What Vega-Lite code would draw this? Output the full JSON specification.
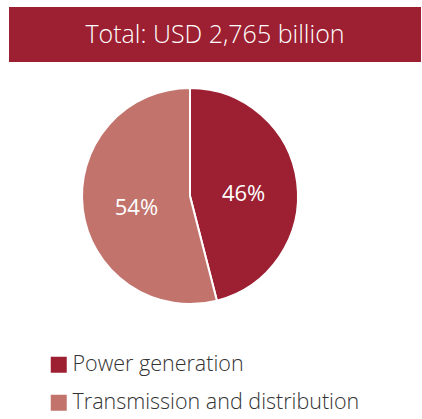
{
  "$schema": "https://vega.github.io/schema/vega-lite/v6.json",
  "padding": {"left": 9, "top": 7, "right": 0, "bottom": 0},
  "background": "white",
  "spacing": 0,
  "config": {"view": {"stroke": null}, "font": "Open Sans"},
  "vconcat": [
    {
      "width": 412,
      "height": 55,
      "view": {"fill": "#9C1F32", "stroke": null},
      "data": {"values": [{"label": "Total: USD 2,765 billion"}]},
      "mark": {"type": "text", "color": "white", "fontSize": 25, "fontWeight": 300, "font": "Open Sans", "baseline": "middle", "align": "center"},
      "encoding": {"text": {"field": "label"}}
    },
    {
      "width": 362,
      "height": 268,
      "data": {"values": [
        {"segment": "Power generation", "share": 46, "label": "46%", "ord": 1},
        {"segment": "Transmission and distribution", "share": 54, "label": "54%", "ord": 2}
      ]},
      "encoding": {
        "theta": {"field": "share", "type": "quantitative", "stack": true},
        "order": {"field": "ord", "type": "quantitative"},
        "color": {
          "field": "segment", "type": "nominal",
          "scale": {"domain": ["Power generation", "Transmission and distribution"], "range": ["#9C1F32", "#C1736C"]},
          "legend": {
            "title": null, "orient": "none", "legendX": 39, "legendY": 347, "direction": "vertical",
            "symbolType": "square", "symbolSize": 256, "symbolStrokeWidth": 0, "symbolOpacity": 1,
            "labelFont": "Open Sans", "labelFontWeight": 300, "labelFontSize": 21.5, "labelColor": "#333333",
            "rowPadding": 15, "labelOffset": 3, "labelLimit": 400
          }
        }
      },
      "layer": [
        {"mark": {"type": "arc", "outerRadius": 108, "stroke": "white", "strokeWidth": 2}},
        {"mark": {"type": "text", "radius": 54, "dy": 5, "fontSize": 22, "fontWeight": 400, "font": "Open Sans", "baseline": "middle"},
         "encoding": {"text": {"field": "label"}, "color": {"value": "white"}}}
      ]
    }
  ]
}
